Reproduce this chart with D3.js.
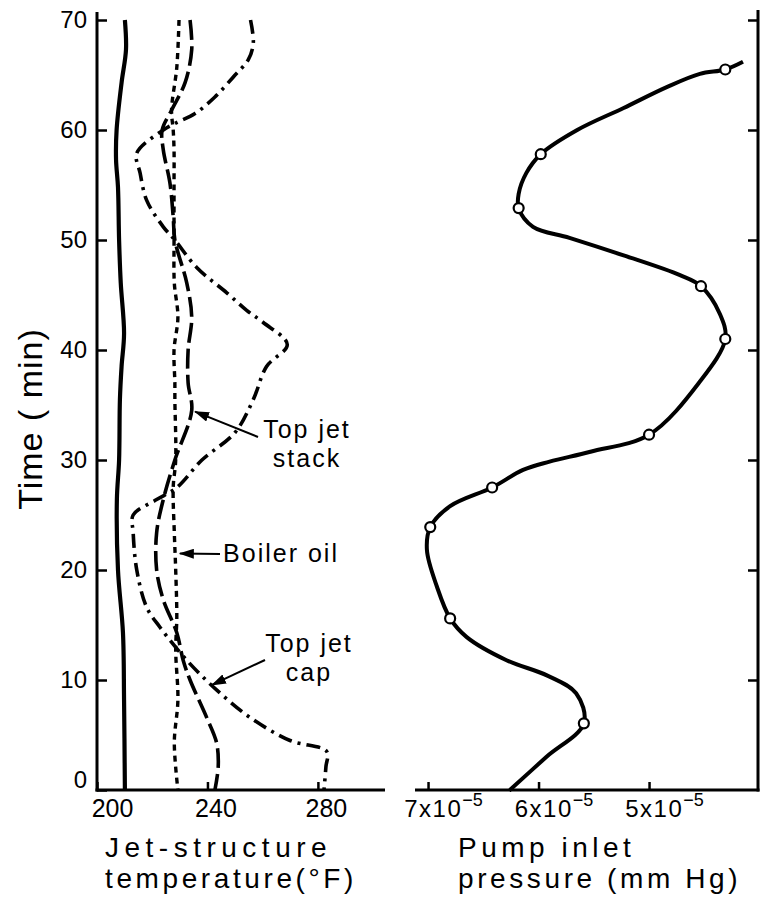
<!DOCTYPE html>
<html lang="en">
<head>
  <meta charset="utf-8">
  <title>Jet-structure temperature and pump inlet pressure</title>
  <script src="https://d3js.org/d3.v7.min.js"></script>
  <style>
    body {
      margin: 0;
      background: #fff;
    }

    svg {
      display: block;
    }

    text {
      font-family: "Liberation Sans", Arial, sans-serif;
      fill: #000;
    }
  </style>
</head>

<body>
  <script>
    // time ticks (min) and axis ticks
    var timeTicks = [0, 10, 20, 30, 40, 50, 60, 70];
    var tempTicks = [200, 240, 280];
    var pressTicks = [7, 6, 5]; // x 10^-5 mm Hg

    // [time (min), temperature (F)]
    var solidLine = [[70, 210.1], [67.3, 210.5], [64.3, 208.9], [60, 207.1], [57.3, 206.9], [54.8, 207.6],
      [50, 208], [46.1, 208.6], [41.5, 209.8], [38.5, 208.9], [35.5, 208.3], [30, 208], [26.4, 207.2],
      [20, 207.6], [14.3, 209.4], [8.2, 209.8], [0, 210.1]];

    var boilerOil = [[70, 229.7], [65.7, 228.9], [61.8, 227.0], [60, 227.6], [58.2, 227.9], [55.2, 227.9],
      [50, 227.9], [46.1, 228.0], [43, 229.3], [40, 227.9], [37, 228.2], [35.5, 228.2], [30, 228.5],
      [27.5, 227.6], [23.4, 228.0], [20, 228.5], [15.7, 228.9], [12.7, 228.5], [8.2, 229.3], [4.3, 228.0],
      [0, 229.3]];

    var topJetStack = [[70, 233.7], [67.3, 234.3], [64.3, 231.9], [61.8, 227.0], [60, 223.6], [58.2, 224.0],
      [55.2, 226.4], [52.1, 227.6], [50, 228.2], [46.1, 232.5], [43, 234.3], [40, 233.0], [37, 233.0],
      [34.5, 234.3], [30, 228.2], [26.4, 224.0], [23.4, 221.6], [20, 221.6], [17.3, 224.0], [14.3, 228.9],
      [11.8, 231.2], [10, 233.7], [6.6, 239.7], [4.3, 243.3], [2.1, 243.9], [0, 242.7]];

    var topJetCap = [[70, 255.6], [67.9, 256.6], [66.4, 254.8], [64.8, 249.3], [63, 242.7], [61.5, 235.5],
      [60.6, 228.2], [60, 224.0], [57.9, 214.4], [56.1, 215.6], [53.6, 218.0], [51.2, 224.0], [50, 228.2],
      [47.5, 236.1], [45.2, 247.0], [43.6, 254.2], [42.5, 260.2], [40.5, 268.9], [38.5, 261.4],
      [35.5, 256.6], [32.5, 250], [30, 238], [27.5, 228.9], [26.4, 221.6], [25, 213.1], [23.4, 213.1],
      [20, 214.4], [16.6, 218.0], [14.8, 222.8], [11.8, 232.5], [9.1, 243.3], [6.6, 255.4], [4.5, 269.9],
      [3.5, 283.2], [2.1, 282.9], [0, 282.2]];

    // pump inlet pressure: measured points and the drawn curve, [time (min), pressure x 10^-5]
    var pressPoints = [[65.5, 4.31], [57.8, 5.98], [52.9, 6.18], [45.8, 4.53], [41.0, 4.31], [32.3, 5.00],
      [27.5, 6.42], [23.9, 6.98], [15.6, 6.80], [6.06, 5.59]];

    var pressCurve = [[66.2, 4.15], [65.1, 4.54], [63.9, 4.84], [62.0, 5.23], [60.0, 5.65], [56.1, 6.11],
      [54.2, 6.18], [51.2, 6.05], [50.2, 5.72], [48.6, 5.23], [46.8, 4.72], [43.3, 4.36], [37.0, 4.55],
      [30.75, 5.53], [29.85, 5.90], [29.1, 6.14], [25.8, 6.80], [21.8, 7.01], [18.5, 6.92], [13.9, 6.65],
      [11.8, 6.29], [10.4, 5.92], [8.8, 5.66], [3.0, 5.93], [0, 6.26]];

    var width = 762,
      height = 911;

    var svg = d3.select("body")
      .append("svg")
      .attr("width", width)
      .attr("height", height);

    var y = d3.scaleLinear().domain([0, 70]).range([790, 20]);
    var xTemp = d3.scaleLinear().domain([200, 304.3]).range([97, 385]);
    var xPress = d3.scaleLinear().domain([7.118, 4.014]).range([415, 758]);

    // arrow head
    svg.append("defs").append("marker")
      .attr("id", "head")
      .attr("markerUnits", "userSpaceOnUse")
      .attr("markerWidth", 16)
      .attr("markerHeight", 10)
      .attr("refX", 14)
      .attr("refY", 5)
      .attr("orient", "auto")
      .append("path")
      .attr("d", "M0,0 L15,5 L0,10 Z")
      .attr("fill", "#000");

    function styleAxis(g) {
      g.attr("font-family", null).attr("font-size", null);
      g.select(".domain").remove();
      g.selectAll(".tick line").attr("stroke", "#000").attr("stroke-width", 2.5);
      g.selectAll(".tick text").attr("font-size", 24);
    }

    // ---- left panel ----
    var leftAxis = svg.append("g")
      .attr("transform", "translate(97,0)")
      .call(d3.axisLeft(y).tickValues(timeTicks).tickSize(-10).tickPadding(10).tickFormat(d3.format("d")))
      .call(styleAxis);
    leftAxis.selectAll(".tick").filter(function (d) { return d === 0; })
      .select("text").attr("y", -10);

    var tempAxis = svg.append("g")
      .attr("transform", "translate(0,790)")
      .call(d3.axisBottom(xTemp).tickValues(tempTicks).tickSize(-8).tickPadding(9).tickFormat(d3.format("d")))
      .call(styleAxis);
    tempAxis.selectAll(".tick text")
      .attr("dx", function (d, i) { return i === 0 ? 15 : 8; })
      .attr("font-size", 25);

    svg.append("line")
      .attr("x1", 97).attr("x2", 97).attr("y1", 12).attr("y2", 791.5)
      .attr("stroke", "#000").attr("stroke-width", 3);
    svg.append("line")
      .attr("x1", 95.5).attr("x2", 385).attr("y1", 790).attr("y2", 790)
      .attr("stroke", "#000").attr("stroke-width", 3);

    var tempLine = d3.line()
      .x(function (d) { return xTemp(d[1]); })
      .y(function (d) { return y(d[0]); })
      .curve(d3.curveCatmullRom.alpha(0.5));

    var tempSeries = [
      { data: solidLine, width: 4.2, dash: null },
      { data: boilerOil, width: 3.4, dash: "6,5" },
      { data: topJetStack, width: 3.6, dash: "20,6" },
      { data: topJetCap, width: 3.6, dash: "14,6,3,6" }
    ];

    svg.selectAll("path.temp")
      .data(tempSeries)
      .enter()
      .append("path")
      .attr("class", "temp")
      .attr("d", function (d) { return tempLine(d.data); })
      .attr("fill", "none")
      .attr("stroke", "#000")
      .attr("stroke-width", function (d) { return d.width; })
      .attr("stroke-dasharray", function (d) { return d.dash; });

    // labels with arrows; tips given in data units
    var notes = [
      { lines: ["Top jet", "stack"], x: 307, y: 438, tail: [258, 437], tip: [34.4, 235.5] },
      { lines: ["Boiler oil"], x: 281, y: 562, tail: [220, 554], tip: [21.5, 230.0] },
      { lines: ["Top jet", "cap"], x: 309, y: 652, tail: [265, 660], tip: [9.55, 241.6] }
    ];

    notes.forEach(function (n) {
      var t = svg.append("text")
        .attr("x", n.x)
        .attr("y", n.y)
        .attr("text-anchor", "middle")
        .attr("font-size", 25)
        .attr("letter-spacing", 2);
      n.lines.forEach(function (s, i) {
        t.append("tspan").attr("x", n.x).attr("dy", i === 0 ? 0 : 29).text(s);
      });
      svg.append("line")
        .attr("x1", n.tail[0]).attr("y1", n.tail[1])
        .attr("x2", xTemp(n.tip[1])).attr("y2", y(n.tip[0]))
        .attr("stroke", "#000")
        .attr("stroke-width", 2)
        .attr("marker-end", "url(#head)");
    });

    // ---- right panel ----
    svg.append("g")
      .attr("transform", "translate(758,0)")
      .call(d3.axisRight(y).tickValues(timeTicks.slice(1)).tickSize(-10).tickFormat(""))
      .call(styleAxis);

    var pressAxis = svg.append("g")
      .attr("transform", "translate(0,790)")
      .call(d3.axisBottom(xPress).tickValues(pressTicks).tickSize(-8).tickPadding(9).tickFormat(""))
      .call(styleAxis);

    pressAxis.selectAll(".tick text").remove();
    pressAxis.selectAll(".tick").each(function (d) {
      var t = d3.select(this).append("text")
        .attr("x", 15)
        .attr("y", 27)
        .attr("text-anchor", "middle")
        .attr("font-size", 24)
        .attr("letter-spacing", 1.5);
      t.append("tspan").text(d + "x10");
      t.append("tspan").attr("dy", -11).attr("font-size", 18).attr("letter-spacing", 0).text("\u22125");
    });

    svg.append("line")
      .attr("x1", 758).attr("x2", 758).attr("y1", 10).attr("y2", 791.5)
      .attr("stroke", "#000").attr("stroke-width", 3);
    svg.append("line")
      .attr("x1", 415).attr("x2", 759.5).attr("y1", 790).attr("y2", 790)
      .attr("stroke", "#000").attr("stroke-width", 3);

    var pressAll = pressCurve.concat(pressPoints).sort(function (a, b) { return b[0] - a[0]; });

    var pressLine = d3.line()
      .x(function (d) { return xPress(d[1]); })
      .y(function (d) { return y(d[0]); })
      .curve(d3.curveCatmullRom.alpha(0.5));

    svg.append("path")
      .attr("d", pressLine(pressAll))
      .attr("fill", "none")
      .attr("stroke", "#000")
      .attr("stroke-width", 4);

    svg.selectAll("circle.pt")
      .data(pressPoints)
      .enter()
      .append("circle")
      .attr("class", "pt")
      .attr("cx", function (d) { return xPress(d[1]); })
      .attr("cy", function (d) { return y(d[0]); })
      .attr("r", 5)
      .attr("fill", "#fff")
      .attr("stroke", "#000")
      .attr("stroke-width", 2.2);

    // ---- titles ----
    svg.append("text")
      .attr("transform", "translate(42,419) rotate(-90)")
      .attr("text-anchor", "middle")
      .attr("font-size", 34)
      .attr("letter-spacing", 1)
      .text("Time ( min)");

    var titles = [
      { x: 105, lines: ["Jet-structure", "temperature(\u00B0F)"], spacing: [5.5, 3.6] },
      { x: 458, lines: ["Pump inlet", "pressure (mm Hg)"], spacing: [4.5, 3.6] }
    ];
    titles.forEach(function (ti) {
      ti.lines.forEach(function (s, i) {
        svg.append("text")
          .attr("x", ti.x)
          .attr("y", 857 + i * 31)
          .attr("font-size", 28)
          .attr("letter-spacing", ti.spacing[i])
          .text(s);
      });
    });
  </script>
</body>

</html>
